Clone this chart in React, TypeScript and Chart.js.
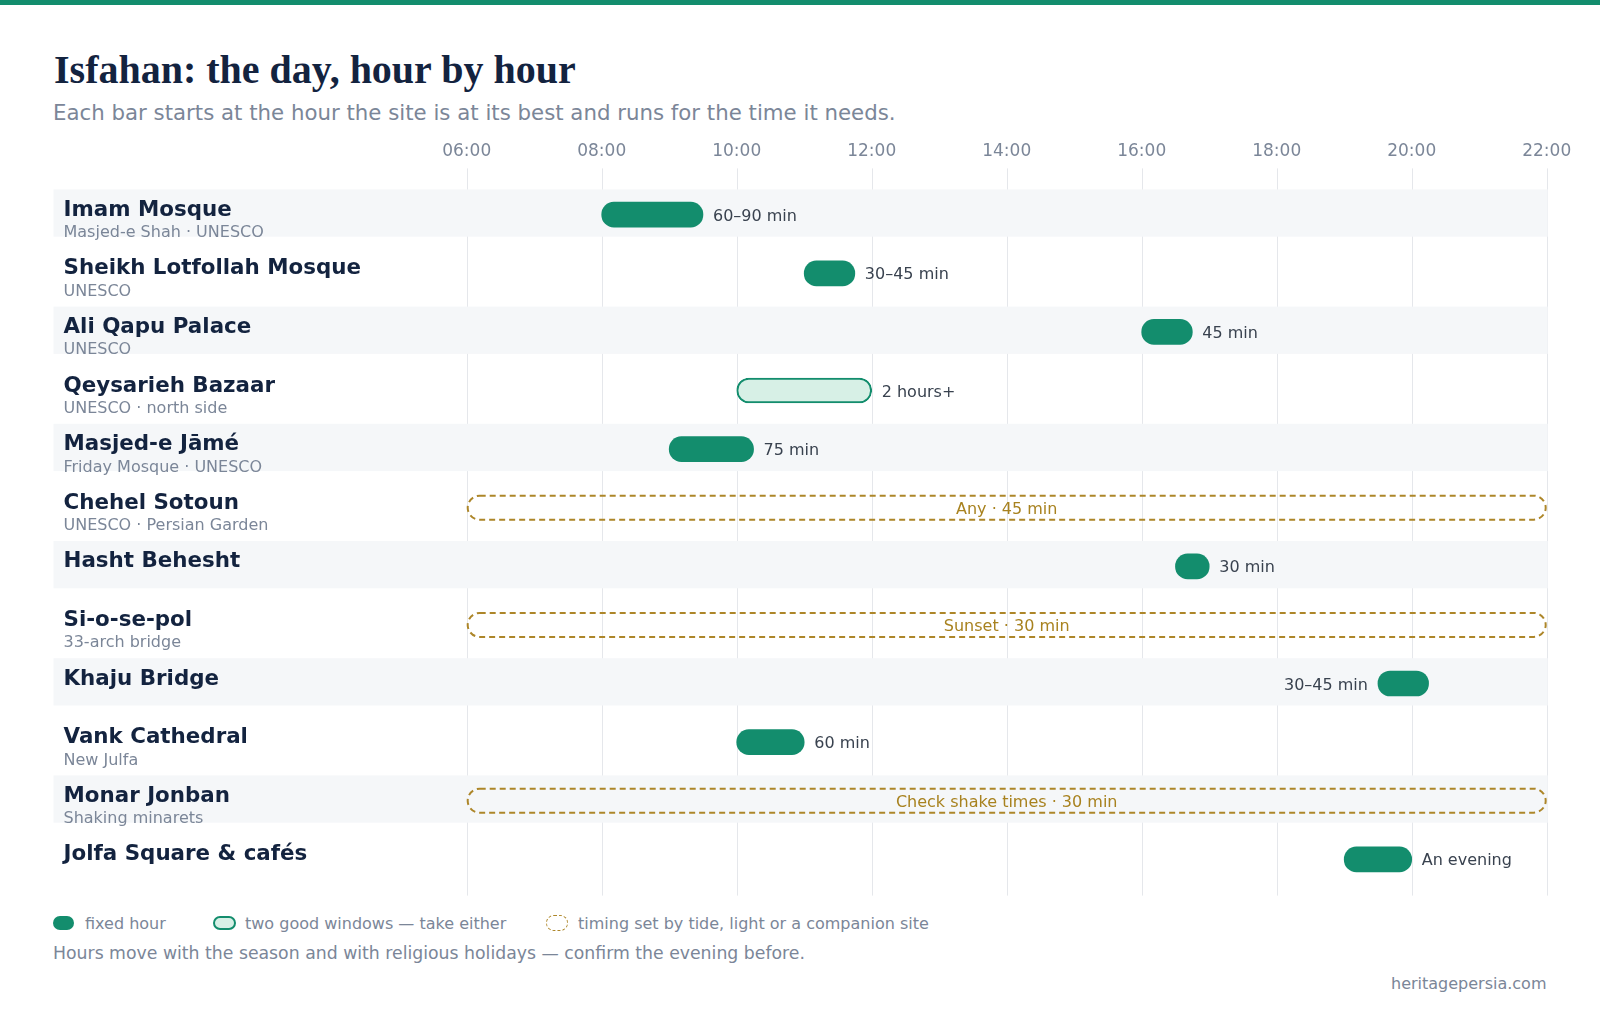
import React, { useEffect, useRef } from 'react';
import Chart from 'chart.js/auto';

// Sites in display order, with the small grey note under each name
const sites = [
  'Imam Mosque',
  'Sheikh Lotfollah Mosque',
  'Ali Qapu Palace',
  'Qeysarieh Bazaar',
  'Masjed-e Jāmé',
  'Chehel Sotoun',
  'Hasht Behesht',
  'Si-o-se-pol',
  'Khaju Bridge',
  'Vank Cathedral',
  'Monar Jonban',
  'Jolfa Square & cafés',
];
const notes = [
  'Masjed-e Shah · UNESCO',
  'UNESCO',
  'UNESCO',
  'UNESCO · north side',
  'Friday Mosque · UNESCO',
  'UNESCO · Persian Garden',
  '',
  '33-arch bridge',
  '',
  'New Julfa',
  'Shaking minarets',
  '',
];

// [start, end] in hours of the day
const fixedHours = [
  [8, 9.5], [11, 11.75], [16, 16.75], null, [9, 10.25], null,
  [16.5, 17], null, [19.5, 20.25], [10, 11], null, [19, 20],
];
const windowHours = [
  null, null, null, [10, 12], null, null,
  null, null, null, null, null, null,
];
const flexibleHours = [
  null, null, null, null, null, [6, 22],
  null, [6, 22], null, null, [6, 22], null,
];
const durations = [
  '60–90 min', '30–45 min', '45 min', '2 hours+', '75 min', 'Any · 45 min',
  '30 min', 'Sunset · 30 min', '30–45 min', '60 min', 'Check shake times · 30 min', 'An evening',
];
// sites whose duration label sits before the bar
const labelBefore = ['Khaju Bridge'];
const hourTicks = [6, 8, 10, 12, 14, 16, 18, 20, 22];

const FONT = '"DejaVu Sans", "Noto Sans", sans-serif';
const GREEN = '#138d6d';
const LIGHT = '#d7f0e6';
const GOLD = '#ad8629';
const GOLD_TEXT = '#a8821f';
const BAND = '#f5f7f9';
const GRID = '#e5e7eb';
const NAVY = '#13233f';
const MUTED = '#7b8698';
const LABEL = '#39424f';

const rowsPlugin = {
  id: 'rows',
  beforeDatasetsDraw(chart: any) {
    const { ctx, chartArea, scales } = chart;
    const x = scales.x;
    const y = scales.y;
    ctx.save();
    // vertical hour lines, reaching a little past the rows
    ctx.strokeStyle = GRID;
    ctx.lineWidth = 1;
    hourTicks.forEach((h) => {
      const px = Math.round(x.getPixelForValue(h)) + 0.5;
      ctx.beginPath();
      ctx.moveTo(px, chartArea.top - 17);
      ctx.lineTo(px, chartArea.bottom + 7);
      ctx.stroke();
    });
    // alternate row bands + site names
    sites.forEach((name, i) => {
      const cy = y.getPixelForValue(i);
      if (i % 2 === 0) {
        ctx.fillStyle = BAND;
        ctx.fillRect(53.5, cy - 25.3, x.right - 53.5 + 1, 47.3);
      }
      ctx.textAlign = 'left';
      ctx.textBaseline = 'alphabetic';
      ctx.fillStyle = NAVY;
      ctx.font = `bold 21.4px ${FONT}`;
      ctx.fillText(name, 63.5, cy + 1);
      if (notes[i]) {
        ctx.fillStyle = MUTED;
        ctx.font = `16px ${FONT}`;
        ctx.fillText(notes[i], 63.5, cy + 22.5);
      }
    });
    ctx.restore();
  },
  afterDatasetsDraw(chart: any) {
    const { ctx } = chart;
    ctx.save();
    ctx.textBaseline = 'alphabetic';
    // duration labels beside the fixed and two-window bars
    [0, 1].forEach((di) => {
      const meta = chart.getDatasetMeta(di);
      meta.data.forEach((el: any, i: number) => {
        const raw = chart.data.datasets[di].data[i];
        if (!raw) return;
        const { x, y, base } = el.getProps(['x', 'y', 'base'], true);
        ctx.fillStyle = LABEL;
        ctx.font = `16px ${FONT}`;
        if (labelBefore.includes(sites[i])) {
          ctx.textAlign = 'right';
          ctx.fillText(durations[i], Math.min(x, base) - 10, y + 6);
        } else {
          ctx.textAlign = 'left';
          ctx.fillText(durations[i], Math.max(x, base) + 10, y + 6);
        }
      });
    });
    // dashed outline for sites whose timing is set by something else
    const meta = chart.getDatasetMeta(2);
    meta.data.forEach((el: any, i: number) => {
      const raw = chart.data.datasets[2].data[i];
      if (!raw) return;
      const { x, y, base } = el.getProps(['x', 'y', 'base'], true);
      const left = Math.min(x, base) + 1;
      const right = Math.max(x, base) - 1;
      const h = 24;
      ctx.strokeStyle = GOLD;
      ctx.lineWidth = 2;
      ctx.setLineDash([6, 4]);
      ctx.beginPath();
      ctx.roundRect(left, y - h / 2, right - left, h, h / 2);
      ctx.stroke();
      ctx.setLineDash([]);
      ctx.fillStyle = GOLD_TEXT;
      ctx.font = `16px ${FONT}`;
      ctx.textAlign = 'center';
      ctx.fillText(durations[i], (left + right) / 2, y + 6);
    });
    ctx.restore();
  },
};

const ScheduleChart: React.FC = () => {
  const canvasRef = useRef<HTMLCanvasElement>(null);
  const chartInstance = useRef<Chart | null>(null);

  useEffect(() => {
    if (!canvasRef.current) return;
    const ctx = canvasRef.current.getContext('2d');
    if (!ctx) return;

    if (chartInstance.current) {
      chartInstance.current.destroy();
    }

    chartInstance.current = new Chart(ctx, {
      type: 'bar',
      data: {
        labels: sites,
        datasets: [
          {
            label: 'fixed hour',
            data: fixedHours as any,
            backgroundColor: GREEN,
            borderWidth: 0,
            borderRadius: 999,
            borderSkipped: false,
            barThickness: 25,
            grouped: false,
          },
          {
            label: 'two good windows',
            data: windowHours as any,
            backgroundColor: LIGHT,
            borderColor: GREEN,
            borderWidth: 2,
            borderRadius: 999,
            borderSkipped: false,
            barThickness: 25,
            grouped: false,
          },
          {
            label: 'timing set elsewhere',
            data: flexibleHours as any,
            backgroundColor: 'rgba(0,0,0,0)',
            borderWidth: 0,
            barThickness: 24,
            grouped: false,
          },
        ],
      },
      options: {
        indexAxis: 'y',
        responsive: true,
        maintainAspectRatio: false,
        animation: false,
        events: [],
        layout: { padding: { left: 466.7, right: 53.3, top: 0, bottom: 21.4 } },
        plugins: {
          legend: { display: false },
          tooltip: { enabled: false },
        },
        scales: {
          x: {
            type: 'linear',
            position: 'top',
            min: 6,
            max: 22,
            afterBuildTicks: (scale: any) => {
              scale.ticks = hourTicks.map((v) => ({ value: v }));
            },
            afterFit: (scale: any) => {
              scale.height = 55.4;
            },
            ticks: {
              autoSkip: false,
              maxRotation: 0,
              padding: 24,
              color: MUTED,
              font: { family: FONT, size: 17 },
              callback: (v: any) => `${String(v).padStart(2, '0')}:00`,
            },
            grid: { display: false, drawTicks: false },
            border: { display: false },
          },
          y: {
            display: false,
            offset: true,
          },
        },
      },
      plugins: [rowsPlugin],
    });

    return () => {
      if (chartInstance.current) {
        chartInstance.current.destroy();
        chartInstance.current = null;
      }
    };
  }, []);

  return (
    <div style={{ position: 'absolute', left: 0, top: 130, width: 1600, height: 780 }}>
      <canvas ref={canvasRef} />
    </div>
  );
};

const text = (size: number): React.CSSProperties => ({
  position: 'absolute',
  fontFamily: FONT,
  fontSize: size,
  lineHeight: `${size}px`,
  color: MUTED,
  whiteSpace: 'nowrap',
});

const swatch = (extra: React.CSSProperties): React.CSSProperties => ({
  position: 'absolute',
  top: 916,
  width: 21,
  height: 14,
  borderRadius: 7,
  boxSizing: 'border-box',
  ...extra,
});

export default function App() {
  useEffect(() => {
    document.body.style.margin = '0';
  }, []);

  return (
    <div style={{ position: 'relative', width: 1600, height: 1010, background: '#fff', overflow: 'hidden' }}>
      <div style={{ position: 'absolute', left: 0, top: 0, width: 1600, height: 5, background: GREEN }} />
      <div
        style={{
          position: 'absolute',
          left: 54,
          top: 49.5,
          fontFamily: '"Liberation Serif", "Times New Roman", serif',
          fontWeight: 'bold',
          fontSize: 40,
          lineHeight: '40px',
          color: NAVY,
          whiteSpace: 'nowrap',
        }}
      >
        Isfahan: the day, hour by hour
      </div>
      <div style={{ ...text(21.3), left: 53, top: 102 }}>
        Each bar starts at the hour the site is at its best and runs for the time it needs.
      </div>

      <ScheduleChart />

      <div style={swatch({ left: 53, background: GREEN })} />
      <div style={{ ...text(16), left: 85, top: 915.8 }}>fixed hour</div>
      <div style={swatch({ left: 213, width: 23, background: LIGHT, border: `2px solid ${GREEN}` })} />
      <div style={{ ...text(16), left: 245, top: 915.8 }}>two good windows — take either</div>
      <div style={swatch({ left: 546, width: 22, height: 16, top: 915, borderRadius: 8, border: `1.5px dashed ${GOLD}` })} />
      <div style={{ ...text(16), left: 578, top: 915.8 }}>timing set by tide, light or a companion site</div>

      <div style={{ ...text(17.3), left: 53, top: 944.7 }}>
        Hours move with the season and with religious holidays — confirm the evening before.
      </div>
      <div style={{ ...text(16), right: 1600 - 1546.5, top: 975.8 }}>heritagepersia.com</div>
    </div>
  );
}
